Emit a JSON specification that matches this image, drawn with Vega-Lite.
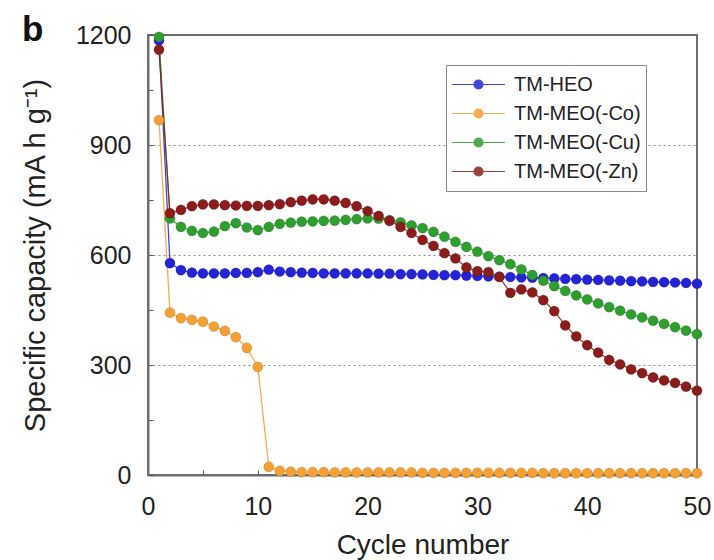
{
  "$schema": "https://vega.github.io/schema/vega-lite/v6.json",
  "width": 549,
  "height": 440,
  "autosize": {"type": "none"},
  "padding": {"left": 148, "top": 35, "right": 17, "bottom": 85},
  "config": {
    "font": "Liberation Sans",
    "view": {"stroke": "#6e6e6e", "strokeWidth": 2}
  },
  "title": {
    "text": "b",
    "anchor": "start",
    "frame": "group",
    "fontSize": 35,
    "fontWeight": "bold",
    "color": "#111",
    "dx": -126,
    "dy": 44,
    "offset": -9,
    "baseline": "alphabetic"
  },
  "datasets": {
    "caps": [
      {"cycle": 1, "sample": "TM-HEO", "capacity": 1185},
      {"cycle": 2, "sample": "TM-HEO", "capacity": 578},
      {"cycle": 3, "sample": "TM-HEO", "capacity": 559},
      {"cycle": 4, "sample": "TM-HEO", "capacity": 552},
      {"cycle": 5, "sample": "TM-HEO", "capacity": 550},
      {"cycle": 6, "sample": "TM-HEO", "capacity": 550},
      {"cycle": 7, "sample": "TM-HEO", "capacity": 550},
      {"cycle": 8, "sample": "TM-HEO", "capacity": 551},
      {"cycle": 9, "sample": "TM-HEO", "capacity": 551},
      {"cycle": 10, "sample": "TM-HEO", "capacity": 553},
      {"cycle": 11, "sample": "TM-HEO", "capacity": 560},
      {"cycle": 12, "sample": "TM-HEO", "capacity": 555},
      {"cycle": 13, "sample": "TM-HEO", "capacity": 553},
      {"cycle": 14, "sample": "TM-HEO", "capacity": 552},
      {"cycle": 15, "sample": "TM-HEO", "capacity": 551},
      {"cycle": 16, "sample": "TM-HEO", "capacity": 550},
      {"cycle": 17, "sample": "TM-HEO", "capacity": 550},
      {"cycle": 18, "sample": "TM-HEO", "capacity": 550},
      {"cycle": 19, "sample": "TM-HEO", "capacity": 550},
      {"cycle": 20, "sample": "TM-HEO", "capacity": 550},
      {"cycle": 21, "sample": "TM-HEO", "capacity": 549},
      {"cycle": 22, "sample": "TM-HEO", "capacity": 549},
      {"cycle": 23, "sample": "TM-HEO", "capacity": 548},
      {"cycle": 24, "sample": "TM-HEO", "capacity": 548},
      {"cycle": 25, "sample": "TM-HEO", "capacity": 547},
      {"cycle": 26, "sample": "TM-HEO", "capacity": 546},
      {"cycle": 27, "sample": "TM-HEO", "capacity": 545},
      {"cycle": 28, "sample": "TM-HEO", "capacity": 545},
      {"cycle": 29, "sample": "TM-HEO", "capacity": 544},
      {"cycle": 30, "sample": "TM-HEO", "capacity": 543},
      {"cycle": 31, "sample": "TM-HEO", "capacity": 542},
      {"cycle": 32, "sample": "TM-HEO", "capacity": 541},
      {"cycle": 33, "sample": "TM-HEO", "capacity": 540},
      {"cycle": 34, "sample": "TM-HEO", "capacity": 539},
      {"cycle": 35, "sample": "TM-HEO", "capacity": 538},
      {"cycle": 36, "sample": "TM-HEO", "capacity": 537},
      {"cycle": 37, "sample": "TM-HEO", "capacity": 536},
      {"cycle": 38, "sample": "TM-HEO", "capacity": 535},
      {"cycle": 39, "sample": "TM-HEO", "capacity": 534},
      {"cycle": 40, "sample": "TM-HEO", "capacity": 533},
      {"cycle": 41, "sample": "TM-HEO", "capacity": 532},
      {"cycle": 42, "sample": "TM-HEO", "capacity": 531},
      {"cycle": 43, "sample": "TM-HEO", "capacity": 530},
      {"cycle": 44, "sample": "TM-HEO", "capacity": 529},
      {"cycle": 45, "sample": "TM-HEO", "capacity": 528},
      {"cycle": 46, "sample": "TM-HEO", "capacity": 527},
      {"cycle": 47, "sample": "TM-HEO", "capacity": 526},
      {"cycle": 48, "sample": "TM-HEO", "capacity": 525},
      {"cycle": 49, "sample": "TM-HEO", "capacity": 524},
      {"cycle": 50, "sample": "TM-HEO", "capacity": 522},
      {"cycle": 1, "sample": "TM-MEO(-Co)", "capacity": 968},
      {"cycle": 2, "sample": "TM-MEO(-Co)", "capacity": 443},
      {"cycle": 3, "sample": "TM-MEO(-Co)", "capacity": 428},
      {"cycle": 4, "sample": "TM-MEO(-Co)", "capacity": 423},
      {"cycle": 5, "sample": "TM-MEO(-Co)", "capacity": 418},
      {"cycle": 6, "sample": "TM-MEO(-Co)", "capacity": 405},
      {"cycle": 7, "sample": "TM-MEO(-Co)", "capacity": 393},
      {"cycle": 8, "sample": "TM-MEO(-Co)", "capacity": 376},
      {"cycle": 9, "sample": "TM-MEO(-Co)", "capacity": 347},
      {"cycle": 10, "sample": "TM-MEO(-Co)", "capacity": 295},
      {"cycle": 11, "sample": "TM-MEO(-Co)", "capacity": 22},
      {"cycle": 12, "sample": "TM-MEO(-Co)", "capacity": 11},
      {"cycle": 13, "sample": "TM-MEO(-Co)", "capacity": 9},
      {"cycle": 14, "sample": "TM-MEO(-Co)", "capacity": 8},
      {"cycle": 15, "sample": "TM-MEO(-Co)", "capacity": 8},
      {"cycle": 16, "sample": "TM-MEO(-Co)", "capacity": 8},
      {"cycle": 17, "sample": "TM-MEO(-Co)", "capacity": 7},
      {"cycle": 18, "sample": "TM-MEO(-Co)", "capacity": 7},
      {"cycle": 19, "sample": "TM-MEO(-Co)", "capacity": 7},
      {"cycle": 20, "sample": "TM-MEO(-Co)", "capacity": 7},
      {"cycle": 21, "sample": "TM-MEO(-Co)", "capacity": 7},
      {"cycle": 22, "sample": "TM-MEO(-Co)", "capacity": 7},
      {"cycle": 23, "sample": "TM-MEO(-Co)", "capacity": 7},
      {"cycle": 24, "sample": "TM-MEO(-Co)", "capacity": 7},
      {"cycle": 25, "sample": "TM-MEO(-Co)", "capacity": 6},
      {"cycle": 26, "sample": "TM-MEO(-Co)", "capacity": 6},
      {"cycle": 27, "sample": "TM-MEO(-Co)", "capacity": 6},
      {"cycle": 28, "sample": "TM-MEO(-Co)", "capacity": 6},
      {"cycle": 29, "sample": "TM-MEO(-Co)", "capacity": 6},
      {"cycle": 30, "sample": "TM-MEO(-Co)", "capacity": 6},
      {"cycle": 31, "sample": "TM-MEO(-Co)", "capacity": 6},
      {"cycle": 32, "sample": "TM-MEO(-Co)", "capacity": 6},
      {"cycle": 33, "sample": "TM-MEO(-Co)", "capacity": 6},
      {"cycle": 34, "sample": "TM-MEO(-Co)", "capacity": 6},
      {"cycle": 35, "sample": "TM-MEO(-Co)", "capacity": 6},
      {"cycle": 36, "sample": "TM-MEO(-Co)", "capacity": 5},
      {"cycle": 37, "sample": "TM-MEO(-Co)", "capacity": 5},
      {"cycle": 38, "sample": "TM-MEO(-Co)", "capacity": 5},
      {"cycle": 39, "sample": "TM-MEO(-Co)", "capacity": 5},
      {"cycle": 40, "sample": "TM-MEO(-Co)", "capacity": 5},
      {"cycle": 41, "sample": "TM-MEO(-Co)", "capacity": 5},
      {"cycle": 42, "sample": "TM-MEO(-Co)", "capacity": 5},
      {"cycle": 43, "sample": "TM-MEO(-Co)", "capacity": 5},
      {"cycle": 44, "sample": "TM-MEO(-Co)", "capacity": 5},
      {"cycle": 45, "sample": "TM-MEO(-Co)", "capacity": 5},
      {"cycle": 46, "sample": "TM-MEO(-Co)", "capacity": 5},
      {"cycle": 47, "sample": "TM-MEO(-Co)", "capacity": 5},
      {"cycle": 48, "sample": "TM-MEO(-Co)", "capacity": 5},
      {"cycle": 49, "sample": "TM-MEO(-Co)", "capacity": 5},
      {"cycle": 50, "sample": "TM-MEO(-Co)", "capacity": 5},
      {"cycle": 1, "sample": "TM-MEO(-Cu)", "capacity": 1195},
      {"cycle": 2, "sample": "TM-MEO(-Cu)", "capacity": 700},
      {"cycle": 3, "sample": "TM-MEO(-Cu)", "capacity": 677},
      {"cycle": 4, "sample": "TM-MEO(-Cu)", "capacity": 666},
      {"cycle": 5, "sample": "TM-MEO(-Cu)", "capacity": 660},
      {"cycle": 6, "sample": "TM-MEO(-Cu)", "capacity": 664},
      {"cycle": 7, "sample": "TM-MEO(-Cu)", "capacity": 679},
      {"cycle": 8, "sample": "TM-MEO(-Cu)", "capacity": 687},
      {"cycle": 9, "sample": "TM-MEO(-Cu)", "capacity": 675},
      {"cycle": 10, "sample": "TM-MEO(-Cu)", "capacity": 668},
      {"cycle": 11, "sample": "TM-MEO(-Cu)", "capacity": 677},
      {"cycle": 12, "sample": "TM-MEO(-Cu)", "capacity": 685},
      {"cycle": 13, "sample": "TM-MEO(-Cu)", "capacity": 688},
      {"cycle": 14, "sample": "TM-MEO(-Cu)", "capacity": 691},
      {"cycle": 15, "sample": "TM-MEO(-Cu)", "capacity": 692},
      {"cycle": 16, "sample": "TM-MEO(-Cu)", "capacity": 693},
      {"cycle": 17, "sample": "TM-MEO(-Cu)", "capacity": 694},
      {"cycle": 18, "sample": "TM-MEO(-Cu)", "capacity": 696},
      {"cycle": 19, "sample": "TM-MEO(-Cu)", "capacity": 698},
      {"cycle": 20, "sample": "TM-MEO(-Cu)", "capacity": 700},
      {"cycle": 21, "sample": "TM-MEO(-Cu)", "capacity": 699},
      {"cycle": 22, "sample": "TM-MEO(-Cu)", "capacity": 695},
      {"cycle": 23, "sample": "TM-MEO(-Cu)", "capacity": 689},
      {"cycle": 24, "sample": "TM-MEO(-Cu)", "capacity": 681},
      {"cycle": 25, "sample": "TM-MEO(-Cu)", "capacity": 673},
      {"cycle": 26, "sample": "TM-MEO(-Cu)", "capacity": 663},
      {"cycle": 27, "sample": "TM-MEO(-Cu)", "capacity": 650},
      {"cycle": 28, "sample": "TM-MEO(-Cu)", "capacity": 636},
      {"cycle": 29, "sample": "TM-MEO(-Cu)", "capacity": 622},
      {"cycle": 30, "sample": "TM-MEO(-Cu)", "capacity": 609},
      {"cycle": 31, "sample": "TM-MEO(-Cu)", "capacity": 597},
      {"cycle": 32, "sample": "TM-MEO(-Cu)", "capacity": 586},
      {"cycle": 33, "sample": "TM-MEO(-Cu)", "capacity": 575},
      {"cycle": 34, "sample": "TM-MEO(-Cu)", "capacity": 561},
      {"cycle": 35, "sample": "TM-MEO(-Cu)", "capacity": 546},
      {"cycle": 36, "sample": "TM-MEO(-Cu)", "capacity": 530},
      {"cycle": 37, "sample": "TM-MEO(-Cu)", "capacity": 515},
      {"cycle": 38, "sample": "TM-MEO(-Cu)", "capacity": 502},
      {"cycle": 39, "sample": "TM-MEO(-Cu)", "capacity": 490},
      {"cycle": 40, "sample": "TM-MEO(-Cu)", "capacity": 479},
      {"cycle": 41, "sample": "TM-MEO(-Cu)", "capacity": 468},
      {"cycle": 42, "sample": "TM-MEO(-Cu)", "capacity": 458},
      {"cycle": 43, "sample": "TM-MEO(-Cu)", "capacity": 448},
      {"cycle": 44, "sample": "TM-MEO(-Cu)", "capacity": 438},
      {"cycle": 45, "sample": "TM-MEO(-Cu)", "capacity": 430},
      {"cycle": 46, "sample": "TM-MEO(-Cu)", "capacity": 421},
      {"cycle": 47, "sample": "TM-MEO(-Cu)", "capacity": 412},
      {"cycle": 48, "sample": "TM-MEO(-Cu)", "capacity": 403},
      {"cycle": 49, "sample": "TM-MEO(-Cu)", "capacity": 394},
      {"cycle": 50, "sample": "TM-MEO(-Cu)", "capacity": 384},
      {"cycle": 1, "sample": "TM-MEO(-Zn)", "capacity": 1160},
      {"cycle": 2, "sample": "TM-MEO(-Zn)", "capacity": 714},
      {"cycle": 3, "sample": "TM-MEO(-Zn)", "capacity": 723},
      {"cycle": 4, "sample": "TM-MEO(-Zn)", "capacity": 733},
      {"cycle": 5, "sample": "TM-MEO(-Zn)", "capacity": 738},
      {"cycle": 6, "sample": "TM-MEO(-Zn)", "capacity": 738},
      {"cycle": 7, "sample": "TM-MEO(-Zn)", "capacity": 736},
      {"cycle": 8, "sample": "TM-MEO(-Zn)", "capacity": 735},
      {"cycle": 9, "sample": "TM-MEO(-Zn)", "capacity": 734},
      {"cycle": 10, "sample": "TM-MEO(-Zn)", "capacity": 734},
      {"cycle": 11, "sample": "TM-MEO(-Zn)", "capacity": 736},
      {"cycle": 12, "sample": "TM-MEO(-Zn)", "capacity": 739},
      {"cycle": 13, "sample": "TM-MEO(-Zn)", "capacity": 744},
      {"cycle": 14, "sample": "TM-MEO(-Zn)", "capacity": 748},
      {"cycle": 15, "sample": "TM-MEO(-Zn)", "capacity": 752},
      {"cycle": 16, "sample": "TM-MEO(-Zn)", "capacity": 752},
      {"cycle": 17, "sample": "TM-MEO(-Zn)", "capacity": 748},
      {"cycle": 18, "sample": "TM-MEO(-Zn)", "capacity": 742},
      {"cycle": 19, "sample": "TM-MEO(-Zn)", "capacity": 733},
      {"cycle": 20, "sample": "TM-MEO(-Zn)", "capacity": 720},
      {"cycle": 21, "sample": "TM-MEO(-Zn)", "capacity": 707},
      {"cycle": 22, "sample": "TM-MEO(-Zn)", "capacity": 693},
      {"cycle": 23, "sample": "TM-MEO(-Zn)", "capacity": 677},
      {"cycle": 24, "sample": "TM-MEO(-Zn)", "capacity": 660},
      {"cycle": 25, "sample": "TM-MEO(-Zn)", "capacity": 641},
      {"cycle": 26, "sample": "TM-MEO(-Zn)", "capacity": 625},
      {"cycle": 27, "sample": "TM-MEO(-Zn)", "capacity": 605},
      {"cycle": 28, "sample": "TM-MEO(-Zn)", "capacity": 591},
      {"cycle": 29, "sample": "TM-MEO(-Zn)", "capacity": 566},
      {"cycle": 30, "sample": "TM-MEO(-Zn)", "capacity": 556},
      {"cycle": 31, "sample": "TM-MEO(-Zn)", "capacity": 553},
      {"cycle": 32, "sample": "TM-MEO(-Zn)", "capacity": 540},
      {"cycle": 33, "sample": "TM-MEO(-Zn)", "capacity": 497},
      {"cycle": 34, "sample": "TM-MEO(-Zn)", "capacity": 506},
      {"cycle": 35, "sample": "TM-MEO(-Zn)", "capacity": 498},
      {"cycle": 36, "sample": "TM-MEO(-Zn)", "capacity": 477},
      {"cycle": 37, "sample": "TM-MEO(-Zn)", "capacity": 447},
      {"cycle": 38, "sample": "TM-MEO(-Zn)", "capacity": 408},
      {"cycle": 39, "sample": "TM-MEO(-Zn)", "capacity": 378},
      {"cycle": 40, "sample": "TM-MEO(-Zn)", "capacity": 354},
      {"cycle": 41, "sample": "TM-MEO(-Zn)", "capacity": 334},
      {"cycle": 42, "sample": "TM-MEO(-Zn)", "capacity": 314},
      {"cycle": 43, "sample": "TM-MEO(-Zn)", "capacity": 302},
      {"cycle": 44, "sample": "TM-MEO(-Zn)", "capacity": 288},
      {"cycle": 45, "sample": "TM-MEO(-Zn)", "capacity": 278},
      {"cycle": 46, "sample": "TM-MEO(-Zn)", "capacity": 266},
      {"cycle": 47, "sample": "TM-MEO(-Zn)", "capacity": 258},
      {"cycle": 48, "sample": "TM-MEO(-Zn)", "capacity": 251},
      {"cycle": 49, "sample": "TM-MEO(-Zn)", "capacity": 241},
      {"cycle": 50, "sample": "TM-MEO(-Zn)", "capacity": 230}
    ]
  },
  "data": {"name": "caps"},
  "encoding": {
    "x": {
      "field": "cycle",
      "type": "quantitative",
      "scale": {"domain": [0, 50], "nice": false, "zero": false},
      "axis": {
        "title": "Cycle number",
        "values": [0, 5, 10, 15, 20, 25, 30, 35, 40, 45, 50],
        "labelExpr": "datum.value % 10 === 0 ? datum.label : ''",
        "grid": false,
        "domainColor": "#6e6e6e",
        "domainWidth": 2,
        "tickColor": "#555",
        "tickSize": -5,
        "labelPadding": 24,
        "labelFontSize": 25,
        "labelColor": "#222",
        "labelFlush": false,
        "labelOverlap": false,
        "titleFontSize": 28,
        "titleFontWeight": "normal",
        "titleColor": "#222",
        "titlePadding": 12
      }
    },
    "y": {
      "field": "capacity",
      "type": "quantitative",
      "scale": {"domain": [0, 1200], "nice": false},
      "axis": {
        "title": "Specific capacity (mA h g⁻¹)",
        "values": [0, 150, 300, 450, 600, 750, 900, 1050, 1200],
        "labelExpr": "datum.value % 300 === 0 ? datum.label : ''",
        "format": "d",
        "grid": true,
        "gridDash": [2, 3],
        "gridColor": "#8a8a8a",
        "gridWidth": 1,
        "gridOpacity": {"condition": {"test": "datum.value === 300 || datum.value === 600 || datum.value === 900", "value": 1}, "value": 0},
        "domainColor": "#6e6e6e",
        "domainWidth": 2,
        "tickColor": "#555",
        "tickSize": -5,
        "labelPadding": 22,
        "labelFontSize": 25,
        "labelColor": "#222",
        "labelFlush": false,
        "labelOverlap": false,
        "titleFontSize": 29,
        "titleFontWeight": "normal",
        "titleColor": "#222",
        "titlePadding": 25
      }
    },
    "color": {
      "field": "sample",
      "type": "nominal",
      "sort": ["TM-HEO", "TM-MEO(-Co)", "TM-MEO(-Cu)", "TM-MEO(-Zn)"],
      "scale": {
        "domain": ["TM-HEO", "TM-MEO(-Co)", "TM-MEO(-Cu)", "TM-MEO(-Zn)"],
        "range": ["#2424d6", "#f5a032", "#2e9e2e", "#8c1c1c"]
      },
      "legend": {
        "title": null,
        "orient": "none",
        "legendX": 298,
        "legendY": 30,
        "direction": "vertical",
        "strokeColor": "#8a8a8a",
        "fillColor": "white",
        "padding": 5,
        "rowPadding": 0,
        "clipHeight": 29,
        "labelFontSize": 20,
        "labelColor": "#222",
        "labelOffset": 8,
        "symbolType": "M-1,0L1,0M-0.17,0A0.17,0.17,0,1,1,0.17,0A0.17,0.17,0,1,1,-0.17,0",
        "symbolSize": 2800,
        "symbolStrokeWidth": 1.2,
        "encode": {
          "symbols": {"update": {"fill": {"scale": "color", "field": "value"}, "fillOpacity": {"value": 1}}}
        }
      }
    }
  },
  "layer": [
    {"mark": {"type": "line", "strokeWidth": 1.3, "opacity": 0.85}},
    {"mark": {"type": "point", "filled": true, "size": 105, "opacity": 1, "stroke": "#00000033", "strokeWidth": 0.6}}
  ]
}
